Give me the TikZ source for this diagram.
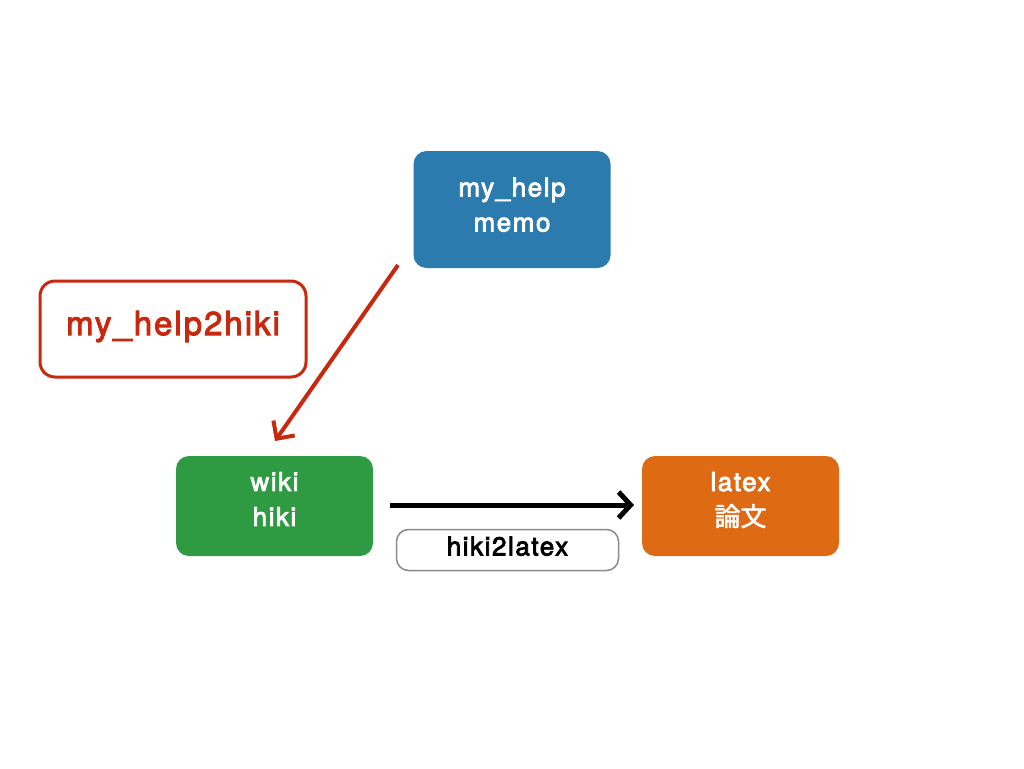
\documentclass[tikz,border=0pt]{standalone}
\usepackage{fontspec}
\setmainfont{TeX Gyre Heros}[FakeBold=3,LetterSpace=6]
\newfontfamily\jpfont{Noto Sans CJK JP}[FakeBold=2]
\usetikzlibrary{arrows.meta}
\definecolor{helpblue}{HTML}{2B7BAE}
\definecolor{wikigreen}{HTML}{2E9A42}
\definecolor{texorange}{HTML}{DE6A14}
\definecolor{toolred}{HTML}{C8280E}
\definecolor{labelgray}{HTML}{8A8A8A}
\tikzstyle{fmtbox}=[rounded corners=13pt,minimum width=197pt,minimum height=100pt,text depth=14pt,text=white,align=center,font=\fontsize{26}{35}\selectfont]
\tikzstyle{toolbox}=[draw=toolred,line width=3pt,rounded corners=15pt,minimum width=266pt,minimum height=96pt,text depth=12pt,text=toolred,font=\fontsize{33}{36}\selectfont]
\tikzstyle{cmdbox}=[draw=labelgray,line width=1.5pt,rounded corners=12pt,minimum width=222pt,minimum height=41pt,text depth=8pt,font=\fontsize{26}{30}\selectfont]

\begin{document}
\begin{tikzpicture}[x=1pt,y=-1pt]
\useasboundingbox (0,0) rectangle (1024,768);
\node [fmtbox,fill=helpblue,minimum height=117pt,text depth=10pt] (help) at (512,209.5) {my\_help\\memo};
\node [toolbox] (help2hiki) at (173,329) {my\_help2hiki};
\node [fmtbox,fill=wikigreen] (wiki) at (274.5,506) {wiki\\hiki};
\node [fmtbox,fill=texorange] (latex) at (740.5,506) {latex\\{\jpfont 論文}};
\node [cmdbox] (hiki2latex) at (507.5,550) {hiki2latex};
\coordinate (helpout) at (398,265);
\coordinate (wikiin) at (275,441);
\coordinate (wikiout) at (390,505);
\coordinate (latexin) at (634,505);
\draw [toolred,line width=4pt,-{Straight Barb[length=13pt,width=26pt]}] (helpout) -- (wikiin);
\draw [black,line width=5pt,-{Straight Barb[length=12pt,width=26pt]}] (wikiout) -- (latexin);
\end{tikzpicture}
\end{document}
